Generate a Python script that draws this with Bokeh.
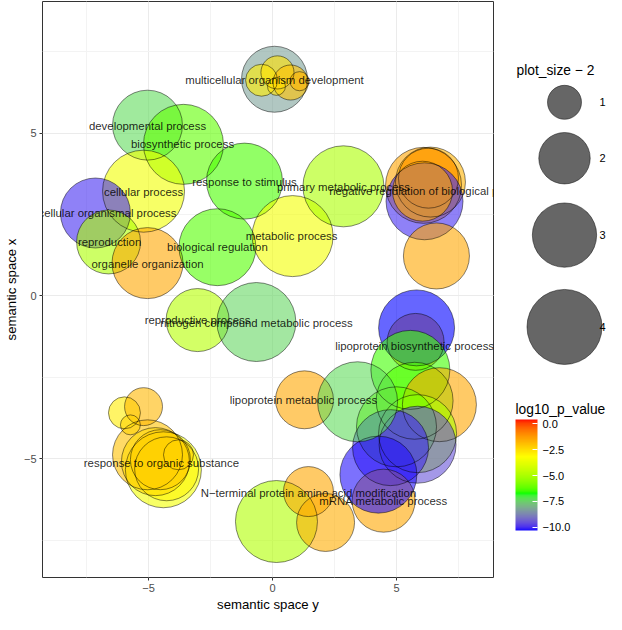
import numpy as np
from bokeh.plotting import figure
from bokeh.models import (ColumnDataSource, LinearColorMapper, ColorBar, Range1d,
                          SingleIntervalTicker, FixedTicker, CustomJSTickFormatter)
from bokeh.layouts import row
from bokeh.core.properties import value
from bokeh.embed import file_html
from bokeh.resources import INLINE

# ---------------- data ----------------
circle_x = [0.08, -0.44, 0.20, 0.73, 1.09, 0.16,
            -5.04, -3.59, -5.20, -7.14, -6.61, -5.04, -1.13, -2.22, 0.81, 2.86,
            6.09, 6.37, 6.29, 6.13, 6.05, 6.61,
            -3.02, -0.65,
            5.77, 5.81, 5.56, 5.73, 6.73, 5.85, 5.00, 5.85, 4.76, 4.48, 4.27,
            1.29, 3.43,
            0.16, 1.45, 2.14,
            -4.40, -4.27, -5.04, -4.72, -4.52, -3.79, -5.97, -5.20, -5.73]
circle_y = [6.66, 6.63, 6.87, 6.56, 6.60, 6.44,
            5.25, 4.66, 3.22, 2.55, 1.66, 1.01, 3.53, 1.50, 1.84, 3.37,
            3.40, 3.50, 3.62, 2.91, 3.22, 1.23,
            -0.74, -0.80,
            -1.41, -0.98, -2.27, -3.22, -3.34, -4.23, -4.02, -4.57, -4.66, -6.29, -5.49,
            -3.19, -3.25,
            -6.93, -6.01, -6.96,
            -5.34, -5.31, -4.88, -5.09, -5.03, -4.88, -3.59, -3.40, -3.96]
log10_p_value = [-8.3, -2.8, -2.6, -2.0, -1.8, -2.6,
                 -7.3, -6.2, -3.5, -10.0, -5.0, -1.5, -6.4, -6.3, -3.4, -5.0,
                 -1.4, -1.7, -1.1, -10.0, -1.5, -1.5,
                 -4.8, -7.4,
                 -1.3, -10.3, -6.5, -6.3, -1.5, -5.0, -6.0, -9.5, -10.0, -1.5, -10.2,
                 -1.5, -7.3,
                 -4.9, -1.5, -1.6,
                 -3.4, -3.0, -2.0, -2.4, -2.2, -2.3, -2.8, -1.8, -2.3]
plot_size_minus_2 = [3.15, 0.91, 0.96, 1.05, 0.47, 0.44,
                     3.51, 4.52, 4.74, 3.51, 2.97, 3.61, 4.10, 4.20, 4.63, 4.63,
                     4.10, 3.51, 2.64, 4.20, 2.64, 3.15,
                     2.89, 4.41,
                     2.40, 4.10, 4.41, 4.20, 3.90, 4.31, 4.52, 4.20, 4.10, 2.89, 4.20,
                     2.48, 4.52,
                     4.74, 1.90, 2.48,
                     4.10, 2.97, 3.51, 3.33, 2.64, 0.83, 0.91, 1.19, 0.49]

labels = ["multicellular organism development", "developmental process",
          "biosynthetic process", "cellular process", "response to stimulus",
          "primary metabolic process", "negative regulation of biological process",
          "multicellular organismal process", "reproduction", "biological regulation",
          "metabolic process", "organelle organization", "reproductive process",
          "nitrogen compound metabolic process", "lipoprotein biosynthetic process",
          "lipoprotein metabolic process", "response to organic substance",
          "N\u2212terminal protein amino acid modification", "mRNA metabolic process"]
label_x = [0.08, -5.04, -3.63, -5.20, -1.13, 2.86, 6.37, -7.14, -6.57, -2.22,
           0.77, -5.04, -3.02, -0.65, 5.73, 1.25, -4.48, 1.45, 4.48]
label_y = [6.63, 5.21, 4.66, 3.19, 3.50, 3.34, 3.22, 2.55, 1.66, 1.50,
           1.84, 0.98, -0.74, -0.83, -1.53, -3.19, -5.12, -6.04, -6.29]

legend_sizes = [1, 2, 3, 4]
cbar_ticks = [-10.0, -7.5, -5.0, -2.5, 0.0]
color_low, color_high = -10.32, 0.42

# ---------------- helpers ----------------
def size_px(v):
    return np.sqrt(1490.0 * np.asarray(v, dtype=float) - 334.0)

def _srgb_to_lab(c):
    c = np.asarray(c, dtype=float) / 255.0
    lin = np.where(c <= 0.04045, c / 12.92, ((c + 0.055) / 1.055) ** 2.4)
    M = np.array([[0.4124, 0.3576, 0.1805], [0.2126, 0.7152, 0.0722], [0.0193, 0.1192, 0.9505]])
    xyz = M @ lin
    wp = np.array([0.95047, 1.0, 1.08883])
    t = xyz / wp
    f = np.where(t > (6 / 29) ** 3, np.cbrt(t), t / (3 * (6 / 29) ** 2) + 4 / 29)
    return np.array([116 * f[1] - 16, 500 * (f[0] - f[1]), 200 * (f[1] - f[2])])

def _lab_to_hex(lab):
    L, a, b = lab
    fy = (L + 16) / 116
    fx = fy + a / 500
    fz = fy - b / 200
    f = np.array([fx, fy, fz])
    t = np.where(f > 6 / 29, f ** 3, 3 * (6 / 29) ** 2 * (f - 4 / 29))
    xyz = t * np.array([0.95047, 1.0, 1.08883])
    Minv = np.array([[3.2406, -1.5372, -0.4986], [-0.9689, 1.8758, 0.0415], [0.0557, -0.2040, 1.0570]])
    lin = np.clip(Minv @ xyz, 0, 1)
    c = np.where(lin <= 0.0031308, 12.92 * lin, 1.055 * lin ** (1 / 2.4) - 0.055)
    c = np.clip(np.round(c * 255), 0, 255).astype(int)
    return "#%02x%02x%02x" % tuple(c)

stops = [(0, 0, 255), (0, 255, 0), (255, 255, 0), (255, 0, 0)]
labs = [_srgb_to_lab(s) for s in stops]
palette = []
for t in np.linspace(0, 1, 256):
    seg = min(int(t * 3), 2)
    u = t * 3 - seg
    palette.append(_lab_to_hex(labs[seg] * (1 - u) + labs[seg + 1] * u))

mapper = LinearColorMapper(palette=palette, low=color_low, high=color_high)
minus_fmt = CustomJSTickFormatter(code="return String(tick).replace('-', '\u2212');")
minus_fmt1 = CustomJSTickFormatter(code="return Number(tick).toFixed(1).replace('-', '\u2212');")

# ---------------- main figure ----------------
W, H = 496, 614
ML, MR, MT, MB = 42, 3, 1, 36
px_per_x, px_per_y = 24.8, 32.6
x0_fig, y0_fig = 272, 296          # data origin inside the figure
x_start = (ML - x0_fig) / px_per_x
x_end = x_start + (W - ML - MR) / px_per_x
y_end = (y0_fig - MT) / px_per_y
y_start = y_end - (H - MT - MB) / px_per_y

p = figure(width=W, height=H, output_backend="svg", toolbar_location=None,
           x_range=Range1d(x_start, x_end), y_range=Range1d(y_start, y_end),
           min_border_left=ML, min_border_right=MR, min_border_top=MT, min_border_bottom=MB,
           background_fill_color="white", border_fill_color="white")
p.outline_line_color = "#333333"
p.outline_line_width = 1

for ax in (p.xaxis, p.yaxis):
    ax.ticker = SingleIntervalTicker(interval=5, num_minor_ticks=2)
    ax.formatter = minus_fmt
    ax.axis_line_color = None
    ax.major_tick_line_color = "#333333"
    ax.major_tick_out = 3
    ax.major_tick_in = 0
    ax.minor_tick_line_color = None
    ax.major_label_text_font = "Liberation Sans"
    ax.major_label_text_font_size = "11px"
    ax.major_label_text_color = "#4d4d4d"
    ax.major_label_standoff = 2
    ax.axis_label_text_font = "Liberation Sans"
    ax.axis_label_text_font_size = "13.2px"
    ax.axis_label_text_font_style = "normal"
    ax.axis_label_text_color = "black"
    ax.axis_label_standoff = 2
p.xaxis.axis_label = "semantic space y"
p.yaxis.axis_label = "semantic space x"
p.yaxis.major_label_orientation = "horizontal"

for g in (p.xgrid, p.ygrid):
    g.grid_line_color = "#ebebeb"
    g.grid_line_width = 1
    g.minor_grid_line_color = "#f3f3f3"
    g.minor_grid_line_width = 1

src = ColumnDataSource(dict(x=circle_x, y=circle_y, p=log10_p_value,
                            s=plot_size_minus_2, d=size_px(plot_size_minus_2)))
p.scatter("x", "y", size="d", source=src, marker="circle",
          fill_color={"field": "p", "transform": mapper}, fill_alpha=0.6,
          line_color=None)
p.scatter("x", "y", size="d", source=src, marker="circle",
          fill_color=None, line_color="black", line_alpha=0.6, line_width=0.8)

lsrc = ColumnDataSource(dict(x=label_x, y=label_y, t=labels))
p.text("x", "y", text="t", source=lsrc, text_align="center", text_baseline="middle",
       text_font=value("Liberation Sans"), text_font_size="11.4px",
       text_color="black", text_alpha=0.85)

# ---------------- legend figure (page-pixel coordinates) ----------------
# in a row, Bokeh aligns this frame with the main frame: it spans y = MT .. H - MB
LW = 606 - W
frame_top, frame_bottom = MT, H - MB
leg = figure(width=LW, height=H, output_backend="svg", toolbar_location=None,
             x_axis_type=None, y_axis_type=None, title=None,
             x_range=Range1d(W, W + LW), y_range=Range1d(frame_bottom, frame_top),
             min_border=0, min_border_left=0, min_border_right=0,
             min_border_top=MT, min_border_bottom=MB,
             background_fill_color="white", border_fill_color="white")
leg.grid.visible = False
leg.outline_line_color = None

leg.text(x=[516], y=[70], text=["plot_size \u2212 2"], text_align="left", text_baseline="middle",
         text_font=value("Liberation Sans"), text_font_size="13.8px", text_color="black")
key_y = [102, 158, 235, 327]
leg.scatter(x=[564] * 4, y=key_y, size=size_px(legend_sizes), marker="circle",
            fill_color="black", fill_alpha=0.6, line_color="black", line_alpha=0.6, line_width=0.8)
leg.text(x=[599] * 4, y=key_y, text=[str(v) for v in legend_sizes], text_align="left",
         text_baseline="middle", text_font=value("Liberation Sans"), text_font_size="11px",
         text_color="black")

leg.text(x=[515], y=[410], text=["log10_p_value"], text_align="left", text_baseline="middle",
         text_font=value("Liberation Sans"), text_font_size="13.8px", text_color="black")

cb = ColorBar(color_mapper=mapper, location=(515 - W, frame_bottom - 531), width=22, height=111,
              padding=0, margin=0, background_fill_alpha=0, border_line_color=None,
              ticker=FixedTicker(ticks=cbar_ticks), formatter=minus_fmt1,
              major_label_text_font="Liberation Sans", major_label_text_font_size="11px",
              major_label_text_color="black", label_standoff=5,
              major_tick_line_color="white", major_tick_in=5, major_tick_out=0,
              minor_tick_line_color=None, bar_line_color=None)
leg.add_layout(cb, "center")

layout = row(p, leg)
open("out.html", "w").write(file_html(layout, INLINE))
